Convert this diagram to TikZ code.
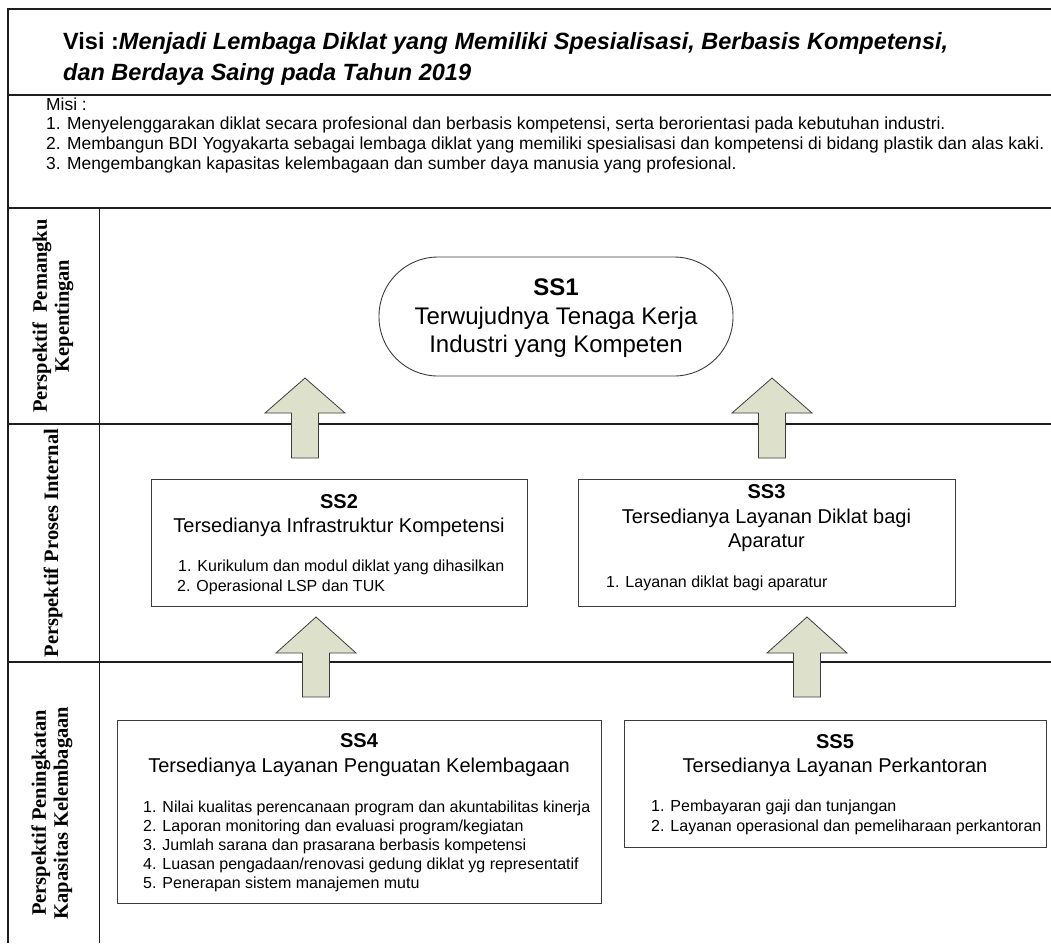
\documentclass[tikz,border=0pt]{standalone}
\usepackage{fontspec}
\setmainfont{Liberation Sans}
\newfontfamily\tnrfont{Liberation Serif}
\definecolor{arrowfill}{RGB}{221,225,204}
\definecolor{framecol}{RGB}{30,30,30}
\definecolor{boxcol}{RGB}{60,60,60}
\newcommand\fvisi{\fontsize{23.5}{27}\selectfont\bfseries}
\newcommand\fmisi{\fontsize{17.4}{20}\selectfont}
\newcommand\fbig{\fontsize{24}{28}\selectfont}
\newcommand\fhead{\fontsize{20}{23}\selectfont}
\newcommand\fitem{\fontsize{16}{19}\selectfont}
\newcommand\fvlab{\fontsize{20.5}{22}\selectfont\tnrfont\bfseries}
\newcommand\blkarrow[4]{\filldraw[blockarrow] (#1,#2) -- (#1+40,#3) -- (#1+13.5,#3) -- (#1+13.5,#4) -- (#1-13.5,#4) -- (#1-13.5,#3) -- (#1-40,#3) -- cycle;}
\begin{document}
\begin{tikzpicture}[x=1pt,y=-1pt,
  frame/.style={draw=framecol,line width=1.3pt},
  box/.style={draw=boxcol,line width=0.9pt,inner sep=0pt},
  blockarrow/.style={fill=arrowfill,draw=boxcol,line width=0.8pt},
  txt/.style={inner sep=0pt,anchor=base},
  itm/.style={inner sep=0pt,anchor=base west,font=\fitem},
  vlab/.style={inner sep=0pt,rotate=90,align=center,font=\fvlab}]
\useasboundingbox (0,0) rectangle (1051,943);
% frame
\draw[frame] (1051,9) -- (8,9) -- (8,943);
\draw[frame] (8,95) -- (1051,95);
\draw[frame] (8,208) -- (1051,208);
\draw[frame] (8,424) -- (1051,424);
\draw[frame] (8,662) -- (1051,662);
\draw[frame] (99.5,208) -- (99.5,943);
% visi / misi
\node[txt,anchor=base west,font=\fvisi] (visi1) at (63,49) {Visi :\textit{Menjadi Lembaga Diklat yang Memiliki Spesialisasi, Berbasis Kompetensi,}};
\node[txt,anchor=base west,font=\fvisi] (visi2) at (63,80) {\textit{dan Berdaya Saing pada Tahun 2019}};
\node[txt,anchor=base west,font=\fmisi] (misi0) at (46,110) {Misi :};
\node[txt,anchor=base west,font=\fmisi] (misi1) at (46,129.5) {1. Menyelenggarakan diklat secara profesional dan berbasis kompetensi, serta berorientasi pada kebutuhan industri.};
\node[txt,anchor=base west,font=\fmisi] (misi2) at (46,149.5) {2. Membangun BDI Yogyakarta sebagai lembaga diklat yang memiliki spesialisasi dan kompetensi di bidang plastik dan alas kaki.};
\node[txt,anchor=base west,font=\fmisi] (misi3) at (46,169.5) {3. Mengembangkan kapasitas kelembagaan dan sumber daya manusia yang profesional.};
% row labels
\node[vlab] (lab1) at (53,316) {Perspektif\ \ Pemangku\\Kepentingan};
\node[vlab] (lab2) at (53,543) {Perspektif Proses Internal};
\node[vlab] (lab3) at (52,813) {Perspektif Peningkatan\\Kapasitas Kelembagaan};
% arrows
\blkarrow{305}{378}{413}{458}
\blkarrow{772}{378}{413}{458}
\blkarrow{316}{617}{653}{697}
\blkarrow{807}{617}{653}{697}
% SS1
\node[box,rounded corners=59pt,minimum width=354pt,minimum height=119pt,fill=white] (ss1) at (556,316.5) {};
\node[txt,font=\fbig\bfseries] (ss1h) at (556,295) {SS1};
\node[txt,font=\fbig] (ss1a) at (556,324) {Terwujudnya Tenaga Kerja};
\node[txt,font=\fbig] (ss1b) at (556,352) {Industri yang Kompeten};
% SS2
\node[box,minimum width=376pt,minimum height=127pt,fill=white] (ss2) at (339,542.5) {};
\node[txt,font=\fhead\bfseries] (ss2h) at (339,508) {SS2};
\node[txt,font=\fhead] (ss2t) at (339,532) {Tersedianya Infrastruktur Kompetensi};
\node[itm] (ss2i1) at (178,571) {1. Kurikulum dan modul diklat yang dihasilkan};
\node[itm] (ss2i2) at (177,591) {2. Operasional LSP dan TUK};
% SS3
\node[box,minimum width=377pt,minimum height=127pt,fill=white] (ss3) at (766.5,542.5) {};
\node[txt,font=\fhead\bfseries] (ss3h) at (766.5,498) {SS3};
\node[txt,font=\fhead] (ss3t) at (766.5,523) {Tersedianya Layanan Diklat bagi};
\node[txt,font=\fhead] (ss3u) at (766.5,547) {Aparatur};
\node[itm] (ss3i1) at (606,587) {1. Layanan diklat bagi aparatur};
% SS4
\node[box,minimum width=484pt,minimum height=183pt,fill=white] (ss4) at (359,811.5) {};
\node[txt,font=\fhead\bfseries] (ss4h) at (359,747) {SS4};
\node[txt,font=\fhead] (ss4t) at (359,772) {Tersedianya Layanan Penguatan Kelembagaan};
\node[itm] (ss4i1) at (143,812) {1. Nilai kualitas perencanaan program dan akuntabilitas kinerja};
\node[itm] (ss4i2) at (143,831) {2. Laporan monitoring dan evaluasi program/kegiatan};
\node[itm] (ss4i3) at (143,850) {3. Jumlah sarana dan prasarana berbasis kompetensi};
\node[itm] (ss4i4) at (143,869) {4. Luasan pengadaan/renovasi gedung diklat yg representatif};
\node[itm] (ss4i5) at (143,888) {5. Penerapan sistem manajemen mutu};
% SS5
\node[box,minimum width=422pt,minimum height=127pt,fill=white] (ss5) at (835,783.5) {};
\node[txt,font=\fhead\bfseries] (ss5h) at (835,748) {SS5};
\node[txt,font=\fhead] (ss5t) at (835,772) {Tersedianya Layanan Perkantoran};
\node[itm] (ss5i1) at (651,811) {1. Pembayaran gaji dan tunjangan};
\node[itm] (ss5i2) at (651,831) {2. Layanan operasional dan pemeliharaan perkantoran};
\end{tikzpicture}
\end{document}
